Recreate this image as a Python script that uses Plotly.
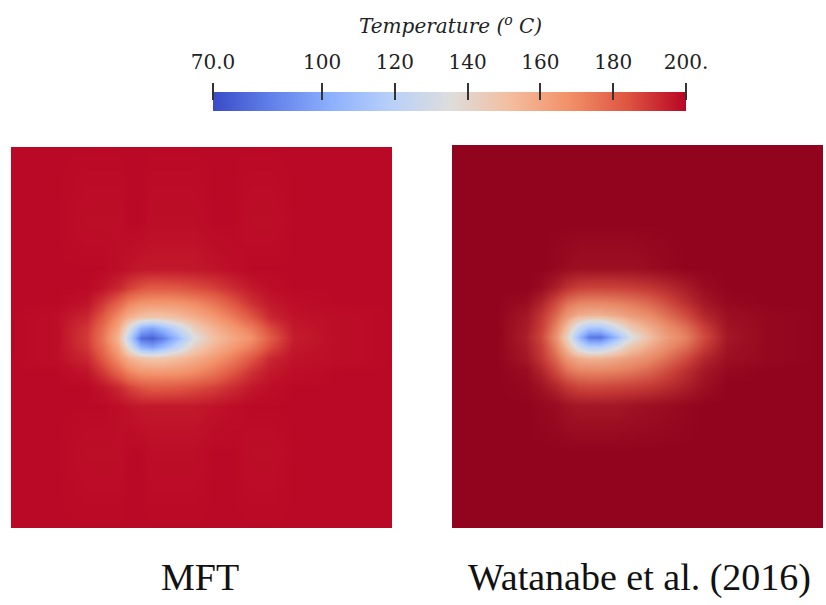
import plotly.graph_objects as go

# ---------------- data ----------------
# grid coordinates (percent of panel width / height, y measured downwards)
xs = [0, 12, 20, 24, 28, 31, 34, 37, 40, 44, 48, 53, 58, 63, 68, 74, 85, 100]
ys = [0, 20, 32, 37, 41, 44.5, 47.5, 50, 52.5, 55.5, 59, 63, 68, 80, 100]

# MFT temperature field (deg C), rows follow ys
mft_T = [
    [199, 199, 199, 199, 199, 199, 199, 199, 199, 199, 199, 199, 199, 199, 199, 199, 199, 199],
    [199, 199, 198, 198, 198, 199, 199, 198, 198, 198, 198, 199, 199, 198, 198, 199, 199, 199],
    [199, 199, 199, 199, 198, 197, 196, 196, 196, 196, 196, 197, 198, 199, 199, 199, 199, 199],
    [199, 199, 199, 197, 193, 188, 184, 182, 182, 183, 185, 188, 192, 196, 198, 199, 199, 199],
    [199, 199, 197, 190, 180, 171, 166, 165, 165, 166, 169, 175, 183, 191, 196, 198, 199, 199],
    [199, 198, 193, 183, 168, 156, 150, 147, 148, 152, 157, 164, 173, 183, 193, 197, 198, 199],
    [199, 198, 190, 178, 160, 134, 104, 98, 108, 126, 143, 155, 164, 173, 186, 196, 198, 199],
    [199, 198, 189, 176, 155, 120, 80, 76, 86, 110, 134, 150, 159, 167, 182, 195, 198, 199],
    [199, 198, 190, 178, 160, 134, 104, 98, 108, 126, 143, 155, 164, 173, 186, 196, 198, 199],
    [199, 198, 193, 183, 168, 156, 150, 147, 148, 152, 157, 164, 173, 183, 193, 197, 198, 199],
    [199, 199, 197, 190, 180, 171, 166, 165, 165, 166, 169, 175, 183, 191, 196, 198, 199, 199],
    [199, 199, 199, 197, 193, 188, 184, 182, 182, 183, 185, 188, 192, 196, 198, 199, 199, 199],
    [199, 199, 199, 199, 198, 197, 196, 196, 196, 196, 196, 197, 198, 199, 199, 199, 199, 199],
    [199, 199, 198, 198, 198, 199, 199, 198, 198, 198, 198, 199, 199, 198, 198, 199, 199, 199],
    [199, 199, 199, 199, 199, 199, 199, 199, 199, 199, 199, 199, 199, 199, 199, 199, 199, 199],
]

# Watanabe et al. (2016) temperature field (deg C)
wat_T = [
    [199, 199, 199, 199, 199, 199, 199, 199, 199, 199, 199, 199, 199, 199, 199, 199, 199, 199],
    [199, 199, 199, 199, 199, 199, 199, 199, 199, 199, 199, 199, 199, 199, 199, 199, 199, 199],
    [199, 199, 199, 199, 198, 197, 196, 196, 196, 196, 196, 197, 198, 199, 199, 199, 199, 199],
    [199, 199, 199, 197, 192, 187, 184, 183, 183, 183, 184, 186, 189, 193, 197, 199, 199, 199],
    [199, 199, 197, 191, 181, 173, 169, 168, 168, 169, 171, 175, 181, 188, 194, 198, 199, 199],
    [199, 199, 194, 186, 174, 163, 156, 154, 154, 157, 161, 166, 173, 181, 190, 196, 198, 199],
    [199, 199, 193, 184, 168, 150, 128, 115, 115, 130, 146, 156, 165, 173, 184, 195, 198, 199],
    [199, 199, 192, 182, 164, 142, 110, 84, 82, 105, 132, 150, 161, 169, 181, 194, 198, 199],
    [199, 199, 193, 184, 168, 150, 128, 115, 115, 130, 146, 156, 165, 173, 184, 195, 198, 199],
    [199, 199, 194, 186, 174, 163, 156, 154, 154, 157, 161, 166, 173, 181, 190, 196, 198, 199],
    [199, 199, 197, 191, 181, 173, 169, 168, 168, 169, 171, 175, 181, 188, 194, 198, 199, 199],
    [199, 199, 198, 195, 190, 185, 182, 181, 181, 182, 183, 185, 188, 192, 196, 199, 199, 199],
    [199, 199, 199, 198, 197, 195, 194, 194, 194, 194, 195, 196, 197, 198, 199, 199, 199, 199],
    [199, 199, 199, 199, 199, 199, 199, 199, 199, 199, 199, 199, 199, 199, 199, 199, 199, 199],
    [199, 199, 199, 199, 199, 199, 199, 199, 199, 199, 199, 199, 199, 199, 199, 199, 199, 199],
]

t_min, t_max = 70, 200
bar_ends = [70, 200]
tick_vals = [70, 100, 120, 140, 160, 180, 200]
tick_text = ["70.0", "100", "120", "140", "160", "180", "200."]
panel_titles = ["MFT", "Watanabe et al. (2016)"]
bar_title = "<i>Temperature (<sup>o</sup> C)</i>"

# ---------------- styles ----------------
cs_left = [
    [0.0, "rgb(58,76,200)"], [0.125, "rgb(98,130,234)"], [0.25, "rgb(141,176,254)"],
    [0.375, "rgb(184,208,249)"], [0.5, "rgb(221,221,221)"], [0.625, "rgb(243,190,160)"],
    [0.75, "rgb(242,145,105)"], [0.875, "rgb(222,85,65)"], [1.0, "rgb(184,4,36)"],
]
cs_right = [
    [0.0, "rgb(58,76,200)"], [0.125, "rgb(98,130,234)"], [0.25, "rgb(141,176,254)"],
    [0.375, "rgb(184,208,249)"], [0.5, "rgb(221,221,221)"], [0.625, "rgb(240,188,158)"],
    [0.75, "rgb(232,135,100)"], [0.875, "rgb(200,62,55)"], [1.0, "rgb(142,0,28)"],
]

fig = go.Figure()

fig.add_trace(go.Heatmap(x=xs, y=ys, z=mft_T, zmin=t_min, zmax=t_max, colorscale=cs_left,
                         zsmooth="best", showscale=False, hoverinfo="skip",
                         xaxis="x", yaxis="y"))
fig.add_trace(go.Heatmap(x=xs, y=ys, z=wat_T, zmin=t_min, zmax=t_max, colorscale=cs_right,
                         zsmooth="best", showscale=False, hoverinfo="skip",
                         xaxis="x2", yaxis="y2"))
# colour bar drawn as its own gradient strip
fig.add_trace(go.Heatmap(x=bar_ends, y=[0, 1], z=[bar_ends, bar_ends], zmin=t_min, zmax=t_max,
                         colorscale=cs_left, zsmooth="best", showscale=False, hoverinfo="skip",
                         xaxis="x3", yaxis="y3"))

W, H = 826, 605
def px(v): return v / W
def py(v): return 1 - v / H

hidden = dict(showgrid=False, zeroline=False, showticklabels=False, ticks="",
              showline=False, automargin=False)

fig.update_layout(
    template="none",
    width=W, height=H,
    margin=dict(l=0, r=0, t=0, b=0, pad=0, autoexpand=False),
    paper_bgcolor="white", plot_bgcolor="white",
    showlegend=False,
    xaxis=dict(domain=[px(11), px(392)], range=[0, 100], **hidden),
    yaxis=dict(domain=[py(528), py(147)], range=[100, 0], **hidden),
    xaxis2=dict(domain=[px(452), px(823)], range=[0, 100], **hidden),
    yaxis2=dict(domain=[py(528), py(145)], range=[100, 0], **hidden),
    xaxis3=dict(domain=[px(213), px(686)], range=[t_min, t_max], side="top",
                anchor="free", position=py(100), automargin=False,
                tickvals=tick_vals, ticktext=tick_text, ticks="outside", ticklen=17,
                tickwidth=1.5, tickcolor="#333", showgrid=False, zeroline=False, showline=False,
                ticklabelstandoff=6,
                tickfont=dict(family="DejaVu Serif", size=20, color="#222")),
    yaxis3=dict(domain=[py(111), py(92)], range=[0, 1], anchor="x3", **hidden),
)

fig.add_annotation(text=bar_title, x=px(450), y=py(25), xref="paper", yref="paper",
                   xanchor="center", yanchor="middle", showarrow=False,
                   font=dict(family="DejaVu Serif", size=20, color="#222"))
fig.add_annotation(text=panel_titles[0], x=px(200), y=py(577), xref="paper", yref="paper",
                   xanchor="center", yanchor="middle", showarrow=False,
                   font=dict(family="Liberation Serif", size=38, color="#111"))
fig.add_annotation(text=panel_titles[1], x=px(639), y=py(577), xref="paper", yref="paper",
                   xanchor="center", yanchor="middle", showarrow=False,
                   font=dict(family="Liberation Serif", size=38, color="#111"))

fig.write_html("out.html")
